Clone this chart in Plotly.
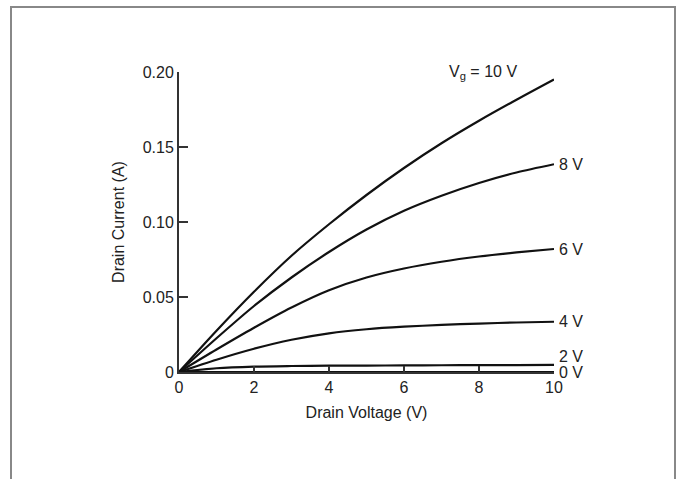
import plotly.graph_objects as go

drain_voltage = [0, 1, 2, 3, 4, 5, 6, 7, 8, 9, 10]
i_vg10 = [0, 0.0275, 0.0535, 0.0775, 0.0985, 0.1180, 0.1360, 0.1525, 0.1675, 0.1815, 0.1950]
i_vg8 = [0, 0.0225, 0.0440, 0.0630, 0.0800, 0.0950, 0.1075, 0.1175, 0.1260, 0.1330, 0.1385]
i_vg6 = [0, 0.0150, 0.0295, 0.0430, 0.0545, 0.0630, 0.0690, 0.0735, 0.0770, 0.0797, 0.0820]
i_vg4 = [0, 0.0082, 0.0155, 0.0215, 0.0258, 0.0285, 0.0302, 0.0314, 0.0323, 0.0330, 0.0335]
i_vg2 = [0, 0.0025, 0.0036, 0.0040, 0.0042, 0.0043, 0.0044, 0.0045, 0.0046, 0.0046, 0.0047]
i_vg0 = [0, 0, 0, 0, 0, 0, 0, 0, 0, 0, 0]

series = [i_vg10, i_vg8, i_vg6, i_vg4, i_vg2, i_vg0]
curve_labels = ["V<sub>g</sub> = 10 V", "8 V", "6 V", "4 V", "2 V", "0 V"]

x_ticks = [0, 2, 4, 6, 8, 10]
y_ticks = [0, 0.05, 0.10, 0.15, 0.20]
y_tick_text = ["0", "0.05", "0.10", "0.15", "0.20"]

FONT = "Liberation Sans, Arial, sans-serif"
FS = 16

fig = go.Figure()
for ys in series:
    fig.add_trace(go.Scatter(x=drain_voltage, y=ys, mode="lines",
                             line=dict(color="#111111", width=2.2, shape="spline", smoothing=0.8),
                             showlegend=False, hoverinfo="skip"))

# labels at curve ends
label_y = [None, i_vg8[-1], i_vg6[-1], i_vg4[-1], 0.0105, 0.0]
for lab, yv in zip(curve_labels[1:], label_y[1:]):
    fig.add_annotation(x=10, y=yv, text=lab, showarrow=False, xanchor="left", yanchor="middle",
                       xshift=3, font=dict(family=FONT, size=FS, color="#222"))
fig.add_annotation(x=8.1, y=0.2, text=curve_labels[0], showarrow=False, xanchor="center",
                   yanchor="middle", font=dict(family=FONT, size=FS, color="#222"))

# outer frame
fig.add_shape(type="rect", xref="paper", yref="paper",
              x0=(11 - 179) / 375, x1=(675 - 179) / 375,
              y0=(372 - 500) / 300, y1=(372 - 7) / 300,
              line=dict(color="#888888", width=2), fillcolor="rgba(0,0,0,0)")

fig.update_layout(
    width=681, height=479,
    margin=dict(l=179, r=127, t=72, b=107),
    paper_bgcolor="white", plot_bgcolor="white",
    font=dict(family=FONT, size=FS, color="#222"),
    xaxis=dict(range=[0, 10], tickvals=x_ticks, ticks="inside", ticklen=6, tickwidth=1.5,
               tickcolor="#333", showline=True, linecolor="#333", linewidth=2,
               showgrid=False, zeroline=False,
               title=dict(text="Drain Voltage (V)", standoff=12, font=dict(size=FS))),
    yaxis=dict(range=[0, 0.2], tickvals=y_ticks, ticktext=y_tick_text, ticks="inside",
               ticklen=9, tickwidth=1.5, tickcolor="#333", showline=True, linecolor="#333",
               linewidth=2, showgrid=False, zeroline=False,
               title=dict(text="Drain Current (A)", standoff=14, font=dict(size=FS))),
)

fig.write_html("out.html", config={"displayModeBar": False},
               post_script="document.body.style.margin='0';document.body.style.overflow='hidden';")
